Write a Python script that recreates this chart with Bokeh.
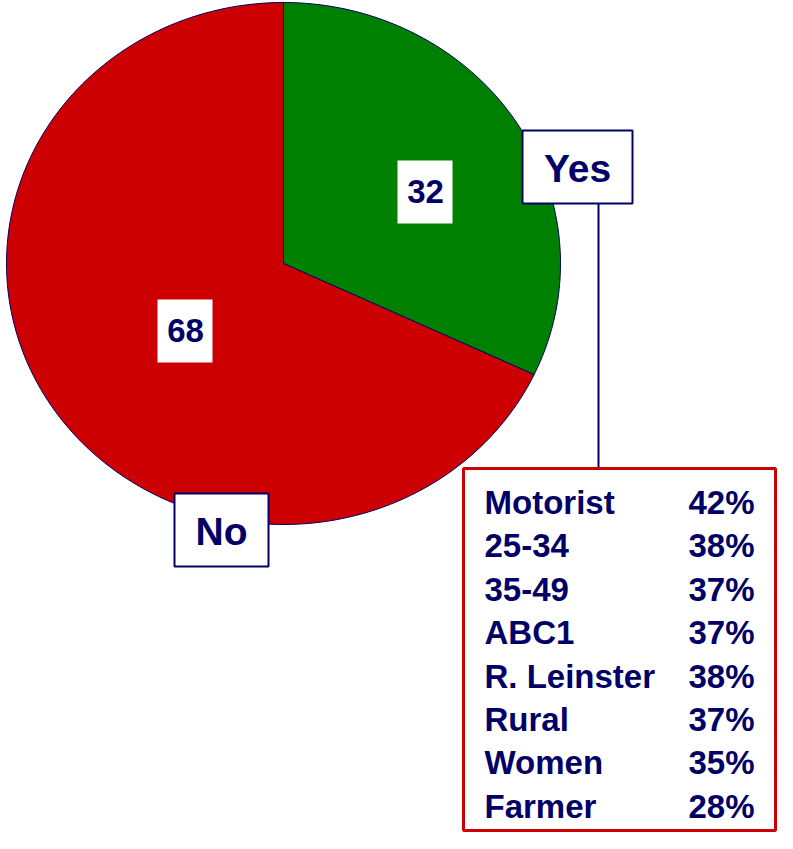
import math
from bokeh.plotting import figure
from bokeh.models import Range1d
from bokeh.core.properties import value
from bokeh.embed import file_html
from bokeh.resources import INLINE

# ---- data ----
answers = ["Yes", "No"]
shares = [32, 68]
slice_colors = ["#008000", "#CC0000"]
groups = ["Motorist", "25-34", "35-49", "ABC1", "R. Leinster", "Rural", "Women", "Farmer"]
group_yes = [42, 38, 37, 37, 38, 37, 35, 28]

NAVY = "#000066"
FONT = value("Liberation Sans")

W, H = 777, 833
X0, Y0 = 0, 0
p = figure(width=W, height=H, output_backend="svg", toolbar_location=None,
           x_range=Range1d(X0, X0 + W), y_range=Range1d(Y0 + H, Y0),
           x_axis_location=None, y_axis_location=None, min_border=0,
           outline_line_color=None, background_fill_color="white")
p.grid.visible = False

# ---- elliptical pie (y grows downward in this frame) ----
cx, cy, rx, ry = 283, 263, 277, 261
total = sum(shares)
xs, ys = [], []
start = 0.0
for s in shares:
    a0 = start
    a1 = start + 2 * math.pi * s / total
    n = max(8, int(240 * s / total))
    px, py = [cx], [cy]
    for k in range(n + 1):
        t = a0 + (a1 - a0) * k / n
        px.append(cx + rx * math.sin(t))
        py.append(cy - ry * math.cos(t))
    xs.append(px)
    ys.append(py)
    start = a1
p.patches(xs=xs, ys=ys, fill_color=slice_colors, line_color=NAVY, line_width=1)

# ---- value labels in white boxes ----
val_pos = [(425, 191), (185, 330)]
p.quad(left=[x - 28 for x, _ in val_pos], right=[x + 27 for x, _ in val_pos],
       top=[y - 31 for _, y in val_pos], bottom=[y + 32 for _, y in val_pos],
       fill_color="white", line_color=None)
p.text(x=[x for x, _ in val_pos], y=[y for _, y in val_pos], text=[str(s) for s in shares],
       text_font=FONT, text_font_style="bold", text_font_size="33px", text_color=NAVY,
       text_align="center", text_baseline="middle")

# ---- category labels in bordered boxes ----
cat_boxes = [(522, 632, 130, 203), (174, 268, 493, 566)]
p.segment(x0=[598], y0=[203], x1=[598], y1=[468], line_color=NAVY, line_width=2)
p.quad(left=[b[0] for b in cat_boxes], right=[b[1] for b in cat_boxes],
       top=[b[2] for b in cat_boxes], bottom=[b[3] for b in cat_boxes],
       fill_color="white", line_color=NAVY, line_width=2)
p.text(x=[(b[0] + b[1]) / 2 for b in cat_boxes], y=[(b[2] + b[3]) / 2 + 1 for b in cat_boxes],
       text=answers, text_font=FONT, text_font_style="bold", text_font_size="39px",
       text_color=NAVY, text_align="center", text_baseline="middle")

# ---- breakdown box ----
p.quad(left=[463], right=[775], top=[468], bottom=[830],
       fill_color="white", line_color="#CC0000", line_width=3)
row_y = [502 + i * 43.4 for i in range(len(groups))]
p.text(x=[484] * len(groups), y=row_y, text=groups, text_font=FONT, text_font_style="bold",
       text_font_size="33px", text_color=NAVY, text_align="left", text_baseline="middle")
p.text(x=[688] * len(groups), y=row_y, text=[f"{v}%" for v in group_yes], text_font=FONT,
       text_font_style="bold", text_font_size="33px", text_color=NAVY,
       text_align="left", text_baseline="middle")

open("out.html", "w").write(file_html(p, INLINE))
